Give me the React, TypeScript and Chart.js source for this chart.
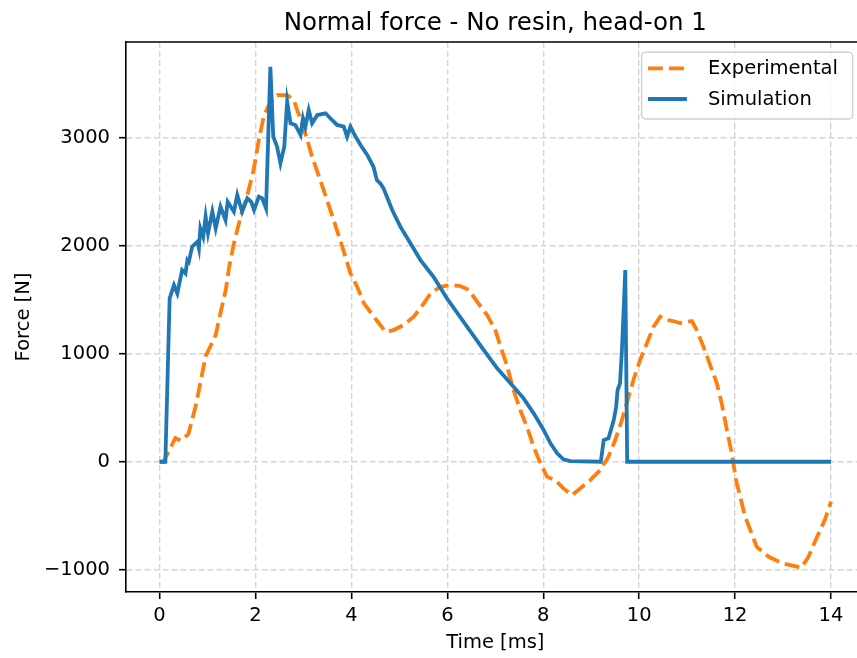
import React, { useEffect, useRef } from "react";
import { Chart, registerables } from "chart.js";
Chart.register(...registerables);

const TITLE = "Normal force - No resin, head-on 1";
const X_LABEL = "Time [ms]";
const Y_LABEL = "Force [N]";
const X_TICKS = [0, 2, 4, 6, 8, 10, 12, 14];
const Y_TICKS = [-1000, 0, 1000, 2000, 3000];

const EXP_LABEL = "Experimental";
const EXP_T = [0.00, 0.08, 0.33, 0.44, 0.60, 0.75, 0.85, 0.96, 1.06, 1.17, 1.27, 1.38, 1.45, 1.55, 1.69, 1.83, 1.96, 2.07, 2.17, 2.28, 2.45, 2.66, 2.80, 2.87, 2.97, 3.08, 3.18, 3.35, 3.49, 3.63, 3.81, 3.98, 4.12, 4.26, 4.47, 4.60, 4.71, 4.88, 5.09, 5.30, 5.51, 5.65, 5.85, 6.06, 6.27, 6.45, 6.62, 6.83, 7.00, 7.10, 7.24, 7.38, 7.52, 7.66, 7.80, 7.94, 8.08, 8.25, 8.42, 8.60, 8.77, 8.98, 9.19, 9.36, 9.50, 9.64, 9.78, 9.88, 10.02, 10.16, 10.30, 10.44, 10.58, 10.71, 10.85, 11.10, 11.20, 11.34, 11.48, 11.62, 11.72, 11.83, 11.93, 12.02, 12.21, 12.45, 12.70, 12.99, 13.29, 13.38, 13.53, 13.68, 13.87, 14.00];
const EXP_F = [0, 0, 220, 195, 255, 510, 727, 977, 1069, 1175, 1377, 1590, 1800, 2022, 2269, 2469, 2701, 2979, 3194, 3303, 3395, 3395, 3349, 3256, 3133, 2979, 2824, 2608, 2423, 2238, 1990, 1744, 1620, 1466, 1343, 1266, 1204, 1219, 1266, 1343, 1466, 1558, 1620, 1636, 1627, 1590, 1482, 1358, 1219, 1080, 895, 664, 479, 325, 139, -15, -139, -170, -247, -309, -247, -170, -77, 46, 201, 386, 602, 757, 942, 1096, 1250, 1343, 1312, 1303, 1284, 1303, 1219, 1065, 895, 726, 540, 293, 78, -170, -509, -787, -880, -941, -972, -981, -880, -725, -540, -370];

const SIM_LABEL = "Simulation";
const SIM_T = [0.00, 0.12, 0.21, 0.30, 0.37, 0.47, 0.54, 0.58, 0.61, 0.68, 0.79, 0.82, 0.85, 0.91, 0.96, 1.01, 1.10, 1.17, 1.27, 1.375, 1.42, 1.55, 1.62, 1.72, 1.83, 1.91, 1.97, 2.07, 2.14, 2.22, 2.31, 2.37, 2.45, 2.52, 2.60, 2.66, 2.73, 2.83, 2.94, 2.99, 3.04, 3.11, 3.18, 3.29, 3.46, 3.56, 3.70, 3.84, 3.91, 3.98, 4.05, 4.19, 4.33, 4.46, 4.53, 4.60, 4.67, 4.74, 4.85, 5.02, 5.23, 5.44, 5.71, 5.99, 6.41, 6.76, 7.04, 7.38, 7.59, 7.80, 8.01, 8.15, 8.29, 8.42, 8.56, 9.20, 9.26, 9.36, 9.47, 9.52, 9.55, 9.60, 9.64, 9.67, 9.71, 9.75, 14.00];
const SIM_F = [0, 0, 1513, 1636, 1559, 1775, 1744, 1867, 1852, 1991, 2037, 1976, 2161, 2083, 2269, 2115, 2315, 2161, 2361, 2238, 2407, 2315, 2469, 2315, 2439, 2407, 2331, 2454, 2439, 2346, 3657, 3009, 2917, 2763, 2917, 3333, 3133, 3118, 3025, 3180, 3102, 3256, 3133, 3210, 3226, 3180, 3118, 3102, 3009, 3102, 3040, 2932, 2840, 2731, 2608, 2578, 2531, 2454, 2331, 2176, 2022, 1867, 1713, 1513, 1250, 1034, 865, 694, 587, 448, 293, 170, 78, 22, 6, 0, 201, 217, 386, 509, 664, 726, 1034, 1343, 1775, 0, 0];

const FONT = "'DejaVu Sans', sans-serif";
const CANVAS_W = 870;
const CANVAS_H = 658;

const overlayPlugin = {
  id: "overlay",
  afterDraw(chart: any) {
    const { ctx, chartArea: a } = chart;
    ctx.save();
    ctx.strokeStyle = "#000";
    ctx.lineWidth = 1.6;
    ctx.setLineDash([]);
    ctx.beginPath();
    ctx.moveTo(a.left, a.top);
    ctx.lineTo(a.right, a.top);
    ctx.lineTo(a.right, a.bottom);
    ctx.stroke();
    ctx.fillStyle = "#000";
    ctx.font = `24.5px ${FONT}`;
    ctx.textAlign = "center";
    ctx.textBaseline = "alphabetic";
    ctx.fillText(TITLE, (a.left + a.right) / 2, a.top - 12);
    const bw = 211;
    const bh = 66.7;
    const bx = a.right - 12 - bw;
    const by = a.top + 10.3;
    ctx.beginPath();
    ctx.roundRect(bx, by, bw, bh, 4);
    ctx.fillStyle = "rgba(255,255,255,0.8)";
    ctx.fill();
    ctx.strokeStyle = "#d0d0d0";
    ctx.lineWidth = 1.5;
    ctx.stroke();
    chart.data.datasets.forEach((ds: any, i: number) => {
      const y = by + 16 + i * 30.7;
      ctx.strokeStyle = ds.borderColor;
      ctx.lineWidth = ds.borderWidth;
      ctx.setLineDash(ds.borderDash || []);
      ctx.lineCap = "butt";
      ctx.beginPath();
      ctx.moveTo(bx + 6.3, y);
      ctx.lineTo(bx + 45.3, y);
      ctx.stroke();
      ctx.setLineDash([]);
      ctx.fillStyle = "#000";
      ctx.font = `19.5px ${FONT}`;
      ctx.textAlign = "left";
      ctx.textBaseline = "middle";
      ctx.fillText(ds.label, bx + 66.3, y + 1);
    });
    ctx.restore();
  },
};

export default function App() {
  const ref = useRef<HTMLCanvasElement>(null);
  useEffect(() => {
    if (!ref.current) return;
    const grid = {
      color: "#d5d5d5",
      lineWidth: 1.4,
      drawTicks: true,
      tickLength: 7,
      tickColor: "#000",
      tickWidth: 1.6,
      tickBorderDash: [],
    };
    const border = { display: true, color: "#000", width: 1.6, dash: [6, 3] };
    const chart = new Chart(ref.current, {
      type: "line",
      data: {
        datasets: [
          {
            label: EXP_LABEL,
            data: EXP_T.map((t, i) => ({ x: t, y: EXP_F[i] })),
            borderColor: "#ff7f0e",
            backgroundColor: "#ff7f0e",
            borderWidth: 3.8,
            borderDash: [15, 6],
            pointRadius: 0,
            tension: 0,
            fill: false,
            order: 1,
          },
          {
            label: SIM_LABEL,
            data: SIM_T.map((t, i) => ({ x: t, y: SIM_F[i] })),
            borderColor: "#1f77b4",
            backgroundColor: "#1f77b4",
            borderWidth: 3.8,
            pointRadius: 0,
            tension: 0,
            fill: false,
            order: 0,
          },
        ],
      },
      options: {
        responsive: false,
        animation: false,
        devicePixelRatio: 1,
        layout: { padding: { top: 42, right: CANVAS_W - 864.6, bottom: 0, left: 0 } },
        plugins: {
          legend: { display: false },
          tooltip: { enabled: false },
          title: { display: false },
        },
        scales: {
          x: {
            type: "linear",
            min: -0.7,
            max: 14.7,
            grid,
            border,
            afterBuildTicks: (s: any) => {
              s.ticks = X_TICKS.map((value) => ({ value }));
            },
            afterFit: (s: any) => {
              s.height = 66;
            },
            ticks: {
              autoSkip: false,
              maxRotation: 0,
              padding: 5,
              color: "#000",
              font: { family: FONT, size: 19.5 },
              callback: (v: any) => String(v).replace("-", "\u2212"),
            },
            title: {
              display: true,
              text: X_LABEL,
              color: "#000",
              font: { family: FONT, size: 19.5 },
              padding: { top: 0, bottom: 3 },
            },
          },
          y: {
            type: "linear",
            min: -1206,
            max: 3886,
            grid,
            border,
            afterBuildTicks: (s: any) => {
              s.ticks = Y_TICKS.map((value) => ({ value }));
            },
            afterFit: (s: any) => {
              s.width = 126;
            },
            ticks: {
              autoSkip: false,
              padding: 9,
              color: "#000",
              font: { family: FONT, size: 19.5 },
              callback: (v: any) => String(v).replace("-", "\u2212"),
            },
            title: {
              display: true,
              text: Y_LABEL,
              color: "#000",
              font: { family: FONT, size: 19.5 },
              padding: { top: 12, bottom: 0 },
            },
          },
        },
      },
      plugins: [overlayPlugin],
    } as any);
    return () => chart.destroy();
  }, []);
  return (
    <div
      style={{
        position: "fixed",
        left: 0,
        top: 0,
        width: 857,
        height: 658,
        overflow: "hidden",
        background: "#fff",
      }}
    >
      <canvas ref={ref} width={CANVAS_W} height={CANVAS_H} style={{ display: "block", width: CANVAS_W, height: CANVAS_H }} />
    </div>
  );
}
